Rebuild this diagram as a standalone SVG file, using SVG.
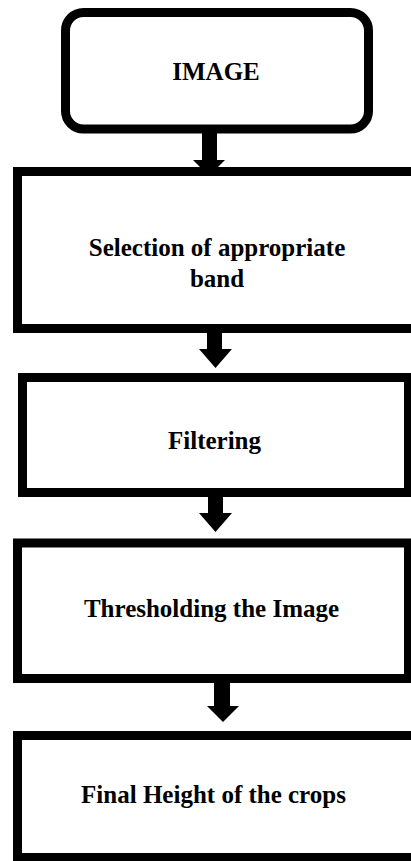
<svg xmlns="http://www.w3.org/2000/svg" width="411" height="861" viewBox="0 0 411 861">
<style>
.box{fill:#fff;stroke:#000;stroke-width:9}
.lbl{font-family:"Liberation Serif","Times New Roman",serif;font-weight:bold;font-size:25px;fill:#000;text-anchor:middle}
.arr{fill:#000;stroke:none}
</style>
<rect width="411" height="861" fill="#fff"/>
<g id="connectors">
<path class="arr" d="M202,130 L217,130 L217,160 L225,160 L209,176 L193,160 L202,160 Z"/>
<path class="arr" d="M207,330 L222,330 L222,349 L232,349 L215.5,368 L199,349 L207,349 Z"/>
<path class="arr" d="M208,492 L223,492 L223,513 L232,513 L215.5,532 L199,513 L208,513 Z"/>
<path class="arr" d="M214,680 L230,680 L230,706 L239,706 L223,722 L207,706 L214,706 Z"/>
</g>
<g id="node-image">
<rect class="box" x="65.5" y="12.5" width="303" height="116.5" rx="18" ry="18"/>
<text class="lbl" x="216" y="80">IMAGE</text>
</g>
<g id="node-selection">
<rect class="box" x="17.5" y="171.5" width="400" height="157"/>
<text class="lbl" x="217" y="256">Selection of appropriate</text>
<text class="lbl" x="217" y="287">band</text>
</g>
<g id="node-filtering">
<rect class="box" x="22.5" y="377.5" width="386" height="115"/>
<text class="lbl" x="214.5" y="449">Filtering</text>
</g>
<g id="node-thresholding">
<rect class="box" x="17.5" y="543" width="391" height="135.5"/>
<text class="lbl" x="211.5" y="617">Thresholding the Image</text>
</g>
<g id="node-final">
<rect class="box" x="17.5" y="735.5" width="400" height="122"/>
<text class="lbl" x="213.5" y="803">Final Height of the crops</text>
</g>
</svg>
